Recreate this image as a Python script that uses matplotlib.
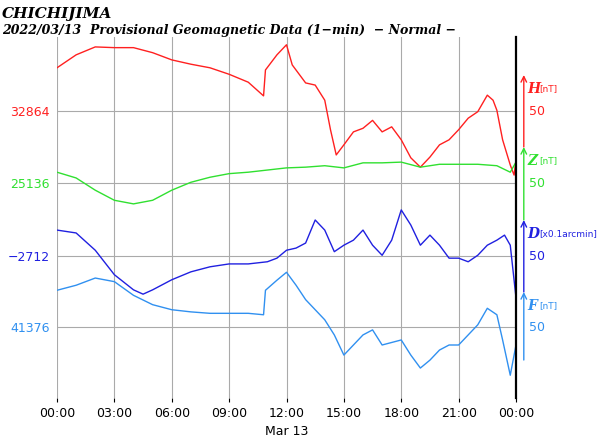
import matplotlib
matplotlib.use("Agg")
import matplotlib.pyplot as plt
import numpy as np

tH = [0,1,2,3,4,5,6,7,8,9,10,10.8,10.9,11.5,12,12.3,13,13.5,14,14.3,14.6,15,15.5,16,16.5,17,17.5,18,18.5,19,19.5,20,20.5,21,21.5,22,22.5,22.8,23,23.3,23.7,23.9,24]
H_dev = [60,78,89,88,88,81,71,65,60,51,40,21,57,78,92,64,39,36,15,-26,-61,-47,-29,-24,-13,-29,-22,-40,-65,-78,-64,-47,-40,-26,-10,-1,22,15,1,-40,-75,-89,-68]
H = [32864 + d for d in H_dev]

tZ = [0,1,2,3,4,5,6,7,8,9,10,11,12,13,14,15,16,17,18,19,20,21,22,23,23.7,24]
Z_dev = [15,7,-10,-24,-29,-24,-10,1,8,13,15,18,21,22,24,21,28,28,29,22,26,26,26,24,15,29]
Z = [25136 + d for d in Z_dev]

tD = [0,1,2,3,4,4.5,5,6,7,8,9,10,11,11.5,12,12.5,13,13.5,14,14.5,15,15.5,16,16.5,17,17.5,18,18.5,19,19.5,20,20.5,21,21.5,22,22.5,23,23.4,23.7,24]
D_dev = [36,32,8,-26,-47,-53,-47,-33,-22,-15,-11,-11,-8,-3,8,11,18,50,36,6,15,22,36,15,1,22,64,43,15,29,15,-3,-3,-8,1,15,22,29,15,-58]
D = [-2712 + d for d in D_dev]

tF = [0,1,2,3,4,5,6,7,8,9,10,10.8,10.9,11.5,12,12.5,13,14,14.5,15,15.5,16,16.5,17,18,18.5,19,19.5,20,20.5,21,21.5,22,22.5,23,23.3,23.7,24]
F_dev = [51,58,68,63,44,31,24,21,19,19,19,17,51,65,76,58,38,10,-11,-39,-25,-11,-4,-25,-18,-39,-57,-46,-32,-25,-25,-11,3,26,17,-18,-67,-25]
F = [41376 + d for d in F_dev]

series = [("H", tH, H, 32864, "#ff2020", "[nT]"),
          ("Z", tZ, Z, 25136, "#30e030", "[nT]"),
          ("D", tD, D, -2712, "#2020e0", "[x0.1arcmin]"),
          ("F", tF, F, 41376, "#3090f0", "[nT]")]
grid_pos = [111, 183, 256, 327]   # vertical band positions on the panel scale
k = 0.72

fig = plt.figure(figsize=(6, 4.38), dpi=100)
ax = fig.add_axes([57/600, 1-398/438, 459/600, 361/438])
ax.set_xlim(0, 24)
ax.set_ylim(398, 37)
for (name, t, v, ref, c, unit), g in zip(series, grid_pos):
    y = [g - (vi - ref) * k for vi in v]
    ax.plot(t, y, color=c, lw=1)
ax.set_yticks(grid_pos)
ax.set_yticklabels([str(s[3]).replace("-", "\u2212") for s in series])
for lab, s in zip(ax.get_yticklabels(), series):
    lab.set_color(s[4])
ax.tick_params(axis="y", length=0, pad=5, labelsize=9)
ax.set_xticks(range(0, 25, 3))
ax.set_xticklabels(["00:00","03:00","06:00","09:00","12:00","15:00","18:00","21:00","00:00"])
ax.tick_params(axis="x", length=3, labelsize=9)
ax.grid(True, color="#aaaaaa", lw=0.8)
for sp in ["top", "bottom", "left"]:
    ax.spines[sp].set_visible(False)
ax.spines["right"].set_linewidth(1.6)
ax.text(12/24, -0.075, "Mar 13", transform=ax.transAxes, ha="center", va="top", fontsize=9)

arrows = [(147, 75), (220, 147), (292, 220), (360, 292)]
for (name, t, v, ref, c, unit), (yb, yt), g in zip(series, arrows, grid_pos):
    ax.annotate("", xy=(1.017, yt), xytext=(1.017, yb), xycoords=("axes fraction", "data"),
                arrowprops=dict(arrowstyle="->", color=c, lw=1, shrinkA=0, shrinkB=0), annotation_clip=False)
    ax.text(1.025, yt + 14, name, transform=ax.get_yaxis_transform(), color=c, fontsize=10,
            family="DejaVu Serif", style="italic", weight="bold", va="center")
    ax.text(1.05, yt + 14, unit, transform=ax.get_yaxis_transform(), color=c, fontsize=6.5, va="center")
    ax.text(1.028, g, "50", transform=ax.get_yaxis_transform(), color=c, fontsize=9, va="center")

fig.text(0.003, 0.985, "CHICHIJIMA", family="DejaVu Serif", style="italic", weight="bold", fontsize=11, va="top")
fig.text(0.003, 0.945, "2022/03/13  Provisional Geomagnetic Data (1\u2212min)  \u2212 Normal \u2212",
         family="DejaVu Serif", style="italic", weight="bold", fontsize=9, va="top")
fig.savefig("out.png")
